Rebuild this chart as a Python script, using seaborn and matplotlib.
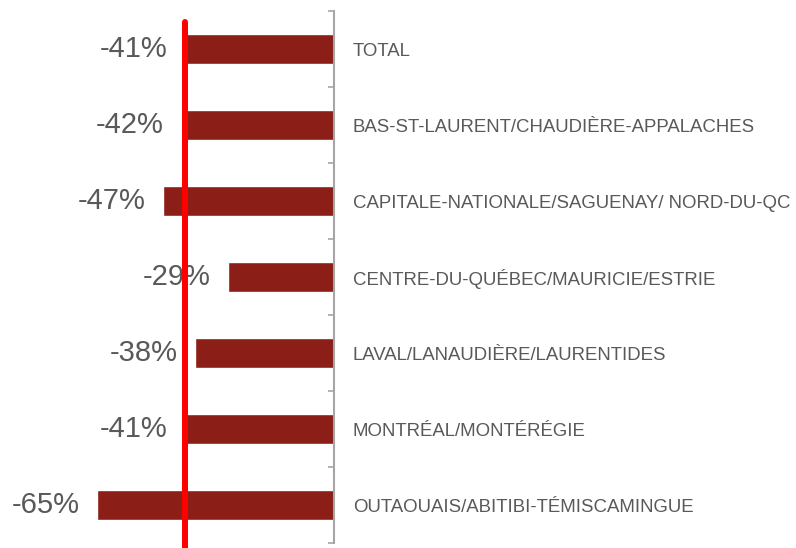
import matplotlib
matplotlib.use("Agg")
import matplotlib.pyplot as plt
import seaborn as sns
import pandas as pd
import numpy as np

# data
regions = [
    "TOTAL",
    "BAS-ST-LAURENT/CHAUDIÈRE-APPALACHES",
    "CAPITALE-NATIONALE/SAGUENAY/ NORD-DU-QC",
    "CENTRE-DU-QUÉBEC/MAURICIE/ESTRIE",
    "LAVAL/LANAUDIÈRE/LAURENTIDES",
    "MONTRÉAL/MONTÉRÉGIE",
    "OUTAOUAIS/ABITIBI-TÉMISCAMINGUE",
]
changes = [-41, -42, -47, -29, -38, -41, -65]
reference_value = -41

BAR_COLOR = "#8B1E16"
TEXT_COLOR = "#595959"
AXIS_COLOR = "#A6A6A6"

sns.set_theme(style="white")
plt.rcParams['font.family'] = ['Liberation Sans', 'DejaVu Sans']

df = pd.DataFrame({"region": regions, "change": changes})

fig = plt.figure(figsize=(7.96, 5.48), dpi=100)
ax = fig.add_axes([0, 5 / 548, 334 / 796, 532 / 548])

sns.barplot(data=df, x="change", y="region", orient="h", color=BAR_COLOR,
            width=0.4, saturation=1, ax=ax)

ax.set_xlim(-334 / 3.646, 0)
ax.set_ylim(len(regions) - 0.5, -0.5)
ax.set_xlabel("")
ax.set_ylabel("")
ax.set_xticks([])

for s in ["top", "bottom", "left"]:
    ax.spines[s].set_visible(False)
ax.spines["right"].set_color(AXIS_COLOR)
ax.spines["right"].set_linewidth(1.5)

# labels on the right, tick marks between categories
ax.yaxis.tick_right()
ax.set_yticks(range(len(regions)))
ax.set_yticklabels(regions)
ax.set_yticks(np.arange(-0.5, len(regions)), minor=True)
ax.tick_params(axis="y", which="major", length=0, pad=13.5,
               labelsize=13.4, labelcolor=TEXT_COLOR)
ax.tick_params(axis="y", which="minor", right=True, direction="in",
               length=4, width=1.2, color=AXIS_COLOR)
for lbl in ax.get_yticklabels():
    lbl.set_horizontalalignment("left")

for i, v in enumerate(changes):
    ax.annotate(f"{v}%", xy=(v, i), xytext=(-12.5, 0), textcoords="offset points",
                ha="right", va="center", fontsize=21, color=TEXT_COLOR)

# reference line at the total
ax.axvline(reference_value, ymin=-0.0094, ymax=0.979, color="#FF0000",
           linewidth=4.3, clip_on=False, zorder=5)

fig.savefig("out.png", dpi=100)
